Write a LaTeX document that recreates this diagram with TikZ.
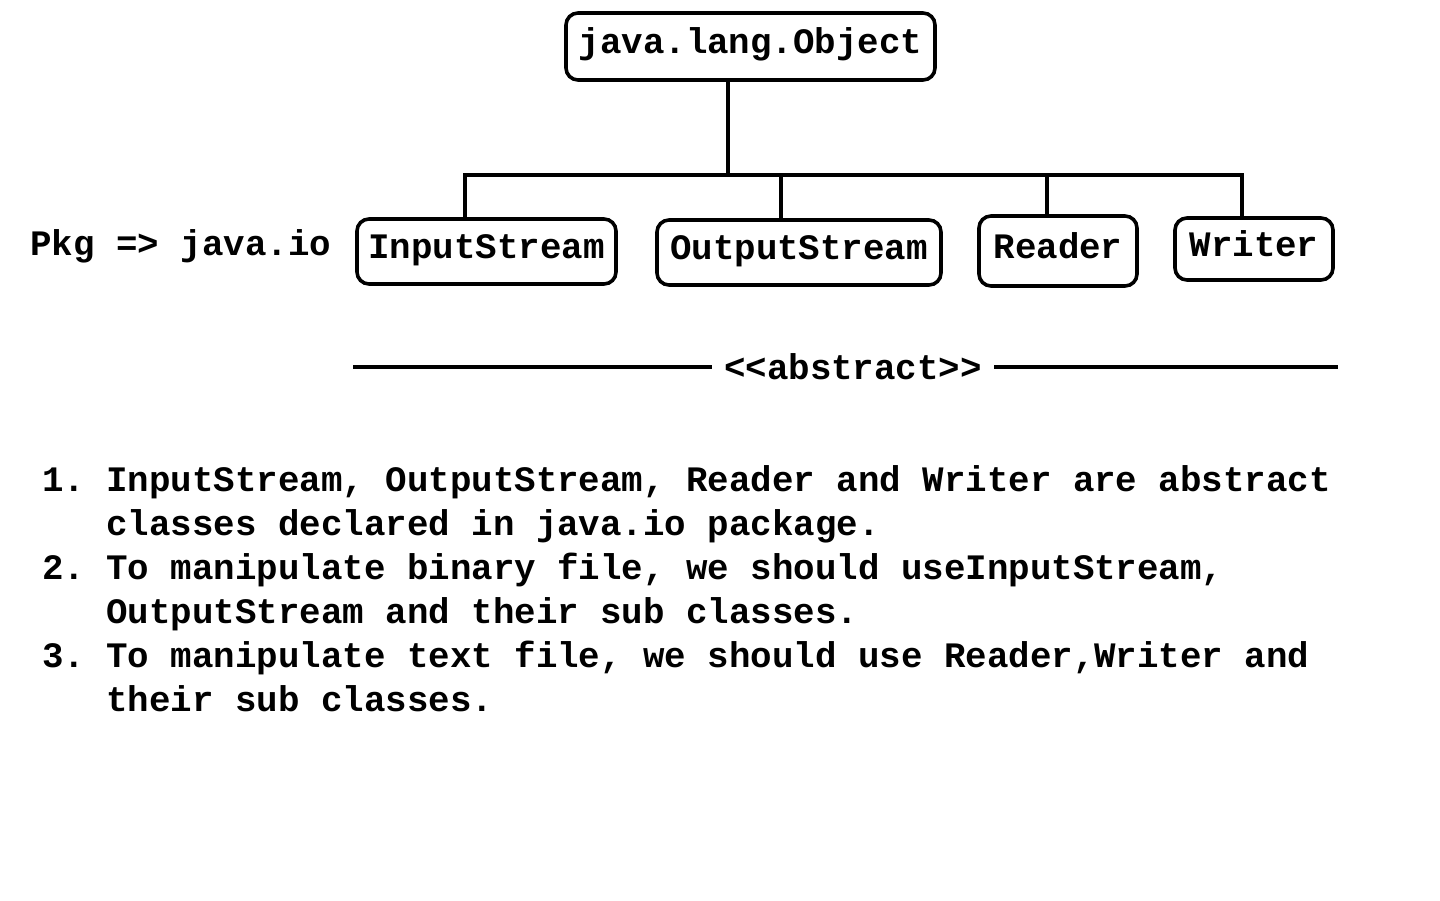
\documentclass[tikz,border=0pt]{standalone}
\usepackage{fontspec}
\newfontfamily\cour{Liberation Mono}
\begin{document}
\begin{tikzpicture}[x=0.5pt,y=-0.5pt,
  every node/.style={font=\cour\bfseries\fontsize{17.9}{22}\selectfont},
  cls/.style={draw, line width=1.8pt, rounded corners=6pt, inner sep=0pt,
    text height=0.78em, text depth=0.05em},
  conn/.style={line width=1.9pt},
  txt/.style={anchor=base west, inner sep=0pt}]
\useasboundingbox (0,0) rectangle (1440,900);
% class boxes
\node[cls, minimum width=184.5pt, minimum height=33.5pt] (obj) at (750.5,46.5) {java.lang.Object};
\node[cls, minimum width=129.5pt, minimum height=32.5pt] (in) at (486.5,251.5) {InputStream};
\node[cls, minimum width=142pt, minimum height=32.5pt] (out) at (799,252.5) {OutputStream};
\node[cls, minimum width=79pt, minimum height=35pt] (rd) at (1058,251) {Reader};
\node[cls, minimum width=79pt, minimum height=31pt] (wr) at (1254,249) {Writer};
% tree connectors
\coordinate (hub) at (728,175);
\coordinate (x1) at (465,175);
\coordinate (x2) at (781,175);
\coordinate (x3) at (1047,175);
\coordinate (x4) at (1242,175);
\draw[conn] (obj.south -| hub) -- (hub);
\draw[conn] (in.north -| x1) -- (x1) -- (x4) -- (wr.north -| x4);
\draw[conn] (x2) -- (out.north -| x2);
\draw[conn] (x3) -- (rd.north -| x3);
% package label
\node[txt] (pkg) at (30,255) {Pkg => java.io};
% abstract line
\node[inner xsep=6pt, inner ysep=0pt] (abs) at (853,367) {<<abstract>>};
\coordinate (la) at (353,367);
\coordinate (ra) at (1338,367);
\draw[conn] (la) -- (la -| abs.west);
\draw[conn] (abs.east |- ra) -- (ra);
% list
\node[txt] (n1) at (42,491) {1.};
\node[txt] (l1a) at (106,491) {InputStream, OutputStream, Reader and Writer are abstract};
\node[txt] (l1b) at (106,535) {classes declared in java.io package.};
\node[txt] (n2) at (42,579) {2.};
\node[txt] (l2a) at (106,579) {To manipulate binary file, we should useInputStream,};
\node[txt] (l2b) at (106,623) {OutputStream and their sub classes.};
\node[txt] (n3) at (42,667) {3.};
\node[txt] (l3a) at (106,667) {To manipulate text file, we should use Reader,Writer and};
\node[txt] (l3b) at (106,711) {their sub classes.};
\end{tikzpicture}
\end{document}
